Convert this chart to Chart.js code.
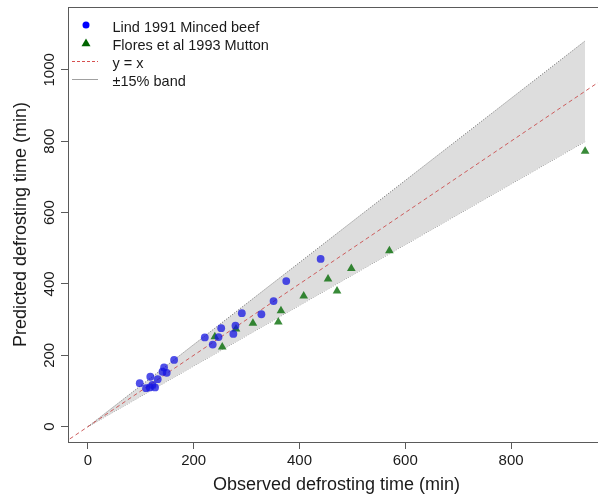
<!DOCTYPE html>
<html><head><meta charset="utf-8">
<script src="https://cdn.jsdelivr.net/npm/chart.js@4.4.0/dist/chart.umd.min.js"></script>
<style>html,body{margin:0;padding:0;overflow:hidden;background:#fff}#wrap{width:610px;height:497px}</style>
</head><body><div id="wrap"><canvas id="c" width="610" height="497"></canvas></div>
<script>
// ---- data ----
const lindObserved  = [98, 118, 110, 117, 122, 127, 132, 141, 144, 149, 163, 221, 236, 247, 252, 275, 279, 291, 328, 351, 375, 440];
const lindPredicted = [122, 140, 108, 110, 117, 110, 133, 154, 166, 151, 187, 250, 230, 251, 276, 260, 283, 318, 315, 352, 408, 470];
const floresObserved  = [240, 254, 280, 312, 360, 365, 408, 454, 471, 498, 570, 940];
const floresPredicted = [252, 223, 274, 290, 293, 325, 366, 414, 380, 443, 493, 772];
const bandObserved = [0, 940];
const bandUpper = [0, 1081];
const bandLower = [0, 799];
const identityX = [-100, 1300];
const xTicks = [0, 200, 400, 600, 800];
const yTicks = [0, 200, 400, 600, 800, 1000];
const seriesNames = ['Lind 1991 Minced beef', 'Flores et al 1993 Mutton', 'y = x', '\u00b115% band'];
const xTitle = 'Observed defrosting time (min)';
const yTitle = 'Predicted defrosting time (min)';

const FONT = '"Liberation Sans", Arial, sans-serif';
Chart.defaults.font.family = FONT;
Chart.defaults.color = '#1a1a1a';

const pts = (xs, ys) => xs.map((x, i) => ({x: x, y: ys[i]}));
const AXIS = '#5a5a5a';

const boxPlugin = {
  id: 'box',
  afterDatasetsDraw(chart) {
    const {ctx, chartArea: a} = chart;
    ctx.save();
    ctx.strokeStyle = AXIS; ctx.lineWidth = 1;
    ctx.strokeRect(Math.round(a.left) + 0.5, Math.round(a.top) + 0.5, Math.round(a.right - a.left), Math.round(a.bottom - a.top));
    ctx.restore();
  },
  afterDraw(chart) {
    const ctx = chart.ctx, ys = chart.scales.y;
    ctx.save();
    // rotated y tick labels
    ctx.font = '15px ' + FONT; ctx.fillStyle = '#1a1a1a';
    ctx.textAlign = 'center'; ctx.textBaseline = 'alphabetic';
    yTicks.forEach(v => {
      ctx.save();
      ctx.translate(54, ys.getPixelForValue(v));
      ctx.rotate(-Math.PI / 2);
      ctx.fillText(String(v), 0, 0);
      ctx.restore();
    });
    // legend
    ctx.font = '14.5px ' + FONT;
    ctx.textAlign = 'left';
    const rows = [26, 44, 62, 80];
    const tx = 112.5, sx = 86;
    ctx.fillStyle = '#0000ff';
    ctx.beginPath(); ctx.arc(sx, rows[0] - 1, 3.5, 0, Math.PI * 2); ctx.fill();
    ctx.fillStyle = '#006400';
    ctx.beginPath();
    ctx.moveTo(sx, rows[1] - 5.5); ctx.lineTo(sx + 4.5, rows[1] + 2.3); ctx.lineTo(sx - 4.5, rows[1] + 2.3); ctx.closePath(); ctx.fill();
    ctx.strokeStyle = 'rgb(215,80,80)'; ctx.lineWidth = 1; ctx.setLineDash([3, 2]);
    ctx.beginPath(); ctx.moveTo(72, rows[2] - 0.5); ctx.lineTo(98, rows[2] - 0.5); ctx.stroke();
    ctx.setLineDash([]);
    ctx.strokeStyle = '#a0a0a0';
    ctx.beginPath(); ctx.moveTo(72, rows[3] - 0.5); ctx.lineTo(98, rows[3] - 0.5); ctx.stroke();
    ctx.fillStyle = '#1a1a1a';
    seriesNames.forEach((s, i) => ctx.fillText(s, tx, rows[i] + 5.5));
    ctx.restore();
  }
};

new Chart(document.getElementById('c'), {
  type: 'line',
  data: {
    datasets: [
      { label: seriesNames[0], data: pts(lindObserved, lindPredicted), showLine: false,
        pointStyle: 'circle', pointRadius: 3.9, pointBorderWidth: 0,
        pointBackgroundColor: 'rgba(20,20,225,0.75)', order: 0 },
      { label: seriesNames[1], data: pts(floresObserved, floresPredicted), showLine: false,
        pointStyle: 'triangle', pointRadius: 5, pointBorderWidth: 0,
        pointBackgroundColor: 'rgba(0,105,0,0.78)', order: 0 },
      { label: seriesNames[2], data: pts(identityX, identityX), borderColor: 'rgb(205,92,92)',
        borderWidth: 1, borderDash: [4, 3], pointRadius: 0, fill: false, order: 1 },
      { label: seriesNames[3], data: pts(bandObserved, bandUpper), borderColor: '#707070',
        borderWidth: 1, borderDash: [1, 1.5], pointRadius: 0, fill: '+1',
        backgroundColor: '#dddddd', order: 2 },
      { label: 'lower', data: pts(bandObserved, bandLower), borderColor: '#707070',
        borderWidth: 1, borderDash: [1, 1.5], pointRadius: 0, fill: false, order: 3 }
    ]
  },
  options: {
    responsive: false, animation: false, events: [],
    layout: { padding: { top: 7, right: 2, left: 0, bottom: 0 } },
    plugins: { legend: { display: false }, tooltip: { enabled: false } },
    scales: {
      x: {
        type: 'linear', min: -37.6, max: 977.6,
        afterBuildTicks: s => { s.ticks = xTicks.map(v => ({value: v})); },
        afterFit: s => { s.height = 55; },
        grid: { drawOnChartArea: false, drawTicks: true, tickLength: 7, color: AXIS },
        border: { display: false },
        ticks: { font: { size: 15 }, padding: 3, maxRotation: 0, color: '#1a1a1a' },
        title: { display: true, text: xTitle, font: { size: 18 }, padding: { top: 0, bottom: 1 }, color: '#1a1a1a' }
      },
      y: {
        type: 'linear', min: -42.9, max: 1176,
        afterBuildTicks: s => { s.ticks = yTicks.map(v => ({value: v})); },
        afterFit: s => { s.width = 68; },
        grid: { drawOnChartArea: false, drawTicks: true, tickLength: 7, color: AXIS },
        border: { display: false },
        ticks: { display: false },
        title: { display: true, text: yTitle, font: { size: 18 }, padding: { top: 10, bottom: 0 }, color: '#1a1a1a' }
      }
    }
  },
  plugins: [boxPlugin]
});
</script></body></html>
